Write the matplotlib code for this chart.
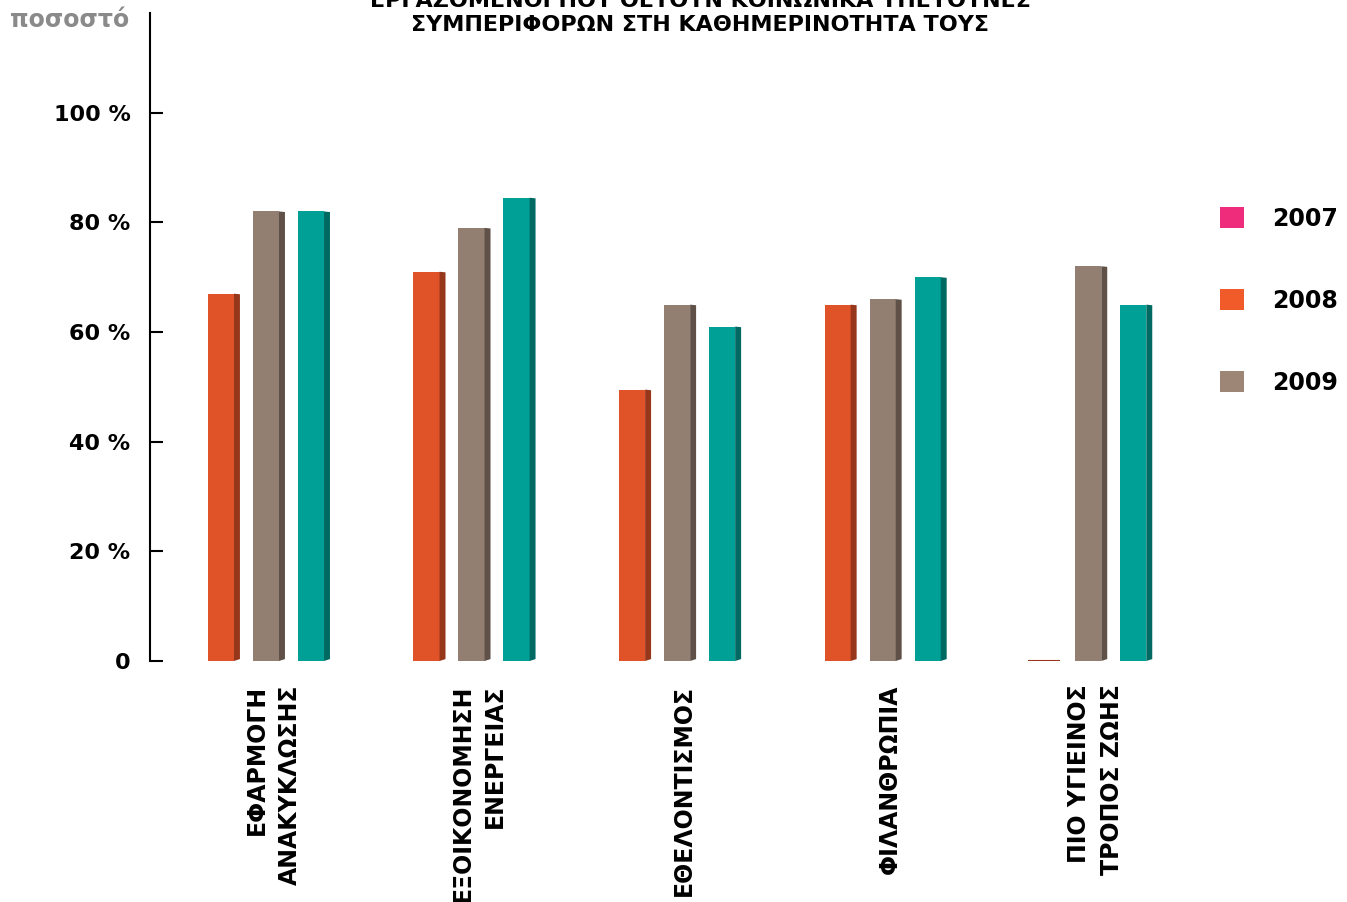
import matplotlib
matplotlib.use("Agg")
import matplotlib.pyplot as plt
from matplotlib.patches import Patch
import numpy as np

plt.rcParams['font.family'] = ['DejaVu Sans']
plt.rcParams['font.weight'] = 'bold'

categories = ["ΕΦΑΡΜΟΓΗ\nΑΝΑΚΥΚΛΩΣΗΣ", "ΕΞΟΙΚΟΝΟΜΗΣΗ\nΕΝΕΡΓΕΙΑΣ", "ΕΘΕΛΟΝΤΙΣΜΟΣ",
              "ΦΙΛΑΝΘΡΩΠΙΑ", "ΠΙΟ ΥΓΙΕΙΝΟΣ\nΤΡΟΠΟΣ ΖΩΗΣ"]
series_names = ["2007", "2008", "2009"]
values_2007 = [67, 71, 49.5, 65, 0]
values_2008 = [82, 79, 65, 66, 72]
values_2009 = [82, 84.5, 61, 70, 65]
yticks = [0, 20, 40, 60, 80, 100]
ytick_labels = ["0", "20 %", "40 %", "60 %", "80 %", "100 %"]

bar_front = ["#E05328", "#937F72", "#00A096"]
bar_side = ["#96361A", "#5F5148", "#006A62"]
legend_colors = ["#EF2B7C", "#F15A29", "#9E8677"]

fig = plt.figure(figsize=(13.47, 9.02), dpi=100)
ax = fig.add_axes([150/1347, 241/902, 1041/1347, 648/902])

x = np.arange(len(categories))
width = 0.127
offset = 0.219
depth = 0.029
slant = 0.35

all_vals = [values_2007, values_2008, values_2009]
for k, vals in enumerate(all_vals):
    xs = x + (k - 1) * offset
    ax.bar(xs, vals, width=width, color=bar_front[k], linewidth=0, zorder=3)
    for xi, v in zip(xs, vals):
        r = xi + width / 2
        if v > 0:
            ax.fill([r, r + depth, r + depth, r],
                    [0, slant, v - slant * 0.3, v],
                    color=bar_side[k], linewidth=0, zorder=3)
        else:
            ax.plot([xi - width / 2 - 0.01, r + 0.02], [v, v], color=bar_side[k],
                    linewidth=1.5, zorder=4, solid_capstyle='butt')

ax.set_xlim(-0.564, 4.5)
ax.set_ylim(0, 118.2)

for s in ["top", "right", "bottom"]:
    ax.spines[s].set_visible(False)
ax.spines["left"].set_linewidth(1.5)

ax.set_yticks(yticks)
ax.set_yticklabels(ytick_labels, fontsize=16, fontweight='bold')
ax.tick_params(axis='y', direction='in', length=9, width=1.5, pad=14)

ax.set_xticks(x + 0.035)
ax.set_xticklabels(categories, rotation=90, fontsize=17, fontweight='bold',
                   va='top', ha='center', linespacing=1.45, multialignment='right')
ax.tick_params(axis='x', length=0, pad=17)

fig.text(10/1347, 1 - 20/902, "ποσοστό", fontsize=17, fontweight='bold',
         color="#8A8A8A", ha='left', va='center')

fig.text(700/1347, 1 - 13/902,
         "ΕΡΓΑΖΟΜΕΝΟΙ ΠΟΥ ΘΕΤΟΥΝ ΚΟΙΝΩΝΙΚΑ ΥΠΕΥΘΥΝΕΣ\nΣΥΜΠΕΡΙΦΟΡΩΝ ΣΤΗ ΚΑΘΗΜΕΡΙΝΟΤΗΤΑ ΤΟΥΣ",
         fontsize=16, fontweight='bold', ha='center', va='center', linespacing=1.25)

handles = [Patch(facecolor=c, edgecolor='none') for c in legend_colors]
fig.legend(handles, series_names, loc='upper left',
           bbox_to_anchor=(1201/1347, 1 - 188/902), frameon=False,
           prop={'size': 17, 'weight': 'bold'}, handlelength=1.0, handleheight=1.0,
           handletextpad=1.2, labelspacing=2.45, borderpad=0.3)

fig.savefig("out.png", dpi=100)
